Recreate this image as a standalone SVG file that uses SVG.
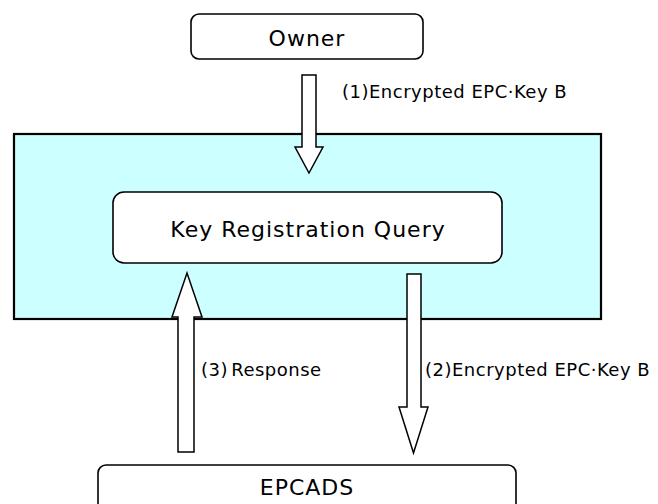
<svg xmlns="http://www.w3.org/2000/svg" width="658" height="504" viewBox="0 0 658 504">
  <style>
    .box { fill: #ffffff; stroke: #000000; stroke-width: 1.6; }
    .frame { fill: #ccffff; stroke: #000000; stroke-width: 2.2; }
    .arrow { fill: #ffffff; stroke: #000000; stroke-width: 1.5; stroke-linejoin: miter; }
    .title { font-family: "DejaVu Sans", Verdana, sans-serif; font-size: 22px; letter-spacing: 1px; fill: #000000; text-anchor: middle; }
    .label { font-family: "DejaVu Sans", Verdana, sans-serif; font-size: 18px; letter-spacing: 0.5px; fill: #000000; }
  </style>

  <!-- system frame -->
  <g id="system">
    <rect class="frame" x="14" y="134" width="587" height="185"/>
  </g>

  <g id="owner">
    <rect class="box" x="191" y="14" width="232" height="45" rx="8" ry="8"/>
    <text class="title" x="307" y="46">Owner</text>
  </g>

  <g id="key-registration-query">
    <rect class="box" x="113" y="192" width="389" height="71" rx="11" ry="11"/>
    <text class="title" x="308" y="237">Key Registration Query</text>
  </g>

  <g id="epcads">
    <rect class="box" x="98" y="465" width="418" height="60" rx="8" ry="8"/>
    <text class="title" x="307" y="495">EPCADS</text>
  </g>

  <!-- block arrows between nodes -->
  <g id="connectors">
    <polygon class="arrow" points="302,75 316,75 316,147 323,147 309,173 295,147 302,147 302,75"/>
    <text class="label" x="342" y="98">(1)Encrypted EPC·Key B</text>

    <polygon class="arrow" points="407,274 421,274 421,407 428,407 413.5,453 399,407 407,407 407,274"/>
    <text class="label" x="425" y="376">(2)Encrypted EPC·Key B</text>

    <polygon class="arrow" points="178,452 194,452 194,317 202,317 187,273 172,317 178,317 178,452"/>
    <text class="label" x="201" y="376" word-spacing="-3">(3) Response</text>
  </g>
</svg>
